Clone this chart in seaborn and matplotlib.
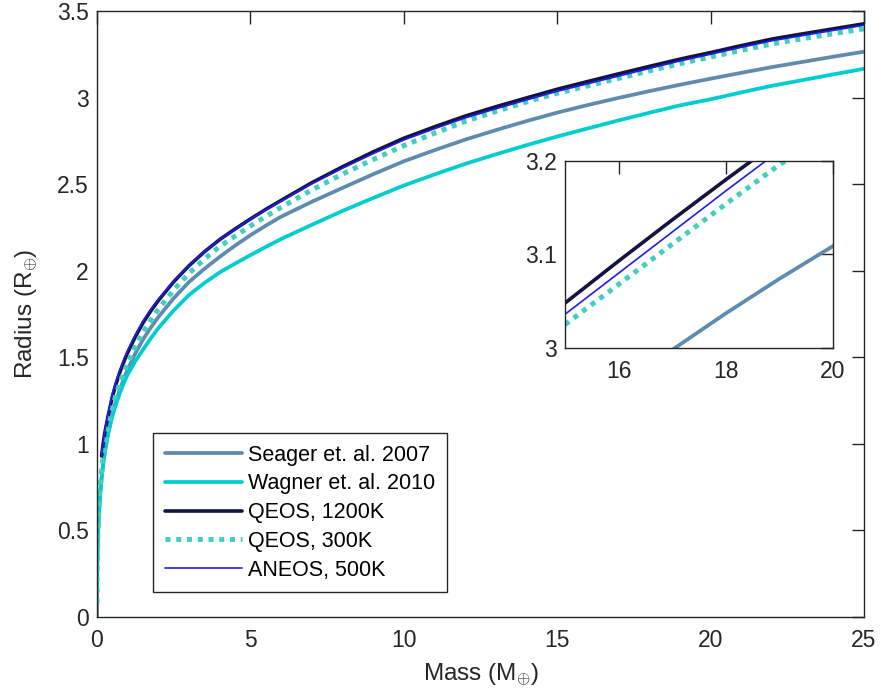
import numpy as np
import pandas as pd
import matplotlib
matplotlib.use("Agg")
import matplotlib.pyplot as plt
import seaborn as sns
from matplotlib.ticker import FuncFormatter

nan = np.nan
mass = [0, 0.0002, 0.001, 0.005, 0.02, 0.05, 0.1, 0.15, 0.2, 0.25, 0.35, 0.5, 0.6, 0.75, 0.9, 1,
        1.25, 1.5, 1.75, 2, 2.5, 3, 3.5, 4, 4.5, 5, 5.5, 6, 7, 8, 9, 10, 11, 12, 13, 14, 15, 16,
        17, 18, 19, 20, 21, 22, 23, 24, 25]
seager = [0, 0.088, 0.151, 0.259, 0.411, 0.558, 0.703, 0.804, 0.882, 0.947, 1.051, 1.170, 1.234,
          1.316, 1.387, 1.430, 1.523, 1.603, 1.671, 1.732, 1.841, 1.935, 2.011, 2.080, 2.145, 2.205,
          2.260, 2.312, 2.398, 2.478, 2.557, 2.632, 2.696, 2.757, 2.812, 2.864, 2.913, 2.957, 2.998,
          3.037, 3.074, 3.109, 3.143, 3.176, 3.206, 3.236, 3.265]
wagner = [nan, nan, 0.150, 0.260, 0.415, 0.564, 0.709, 0.807, 0.883, 0.946, 1.046, 1.160, 1.219,
          1.296, 1.362, 1.401, 1.478, 1.544, 1.609, 1.668, 1.771, 1.860, 1.929, 1.990, 2.041, 2.090,
          2.137, 2.183, 2.265, 2.345, 2.420, 2.492, 2.556, 2.617, 2.672, 2.725, 2.775, 2.822, 2.868,
          2.912, 2.955, 2.990, 3.030, 3.068, 3.101, 3.134, 3.166]
qeos1200 = [nan, nan, nan, nan, nan, nan, nan, 0.930, 1.000, 1.060, 1.150, 1.271, 1.334,
            1.416, 1.485, 1.527, 1.619, 1.699, 1.767, 1.828, 1.936, 2.029, 2.109, 2.180, 2.241, 2.299,
            2.354, 2.406, 2.508, 2.600, 2.686, 2.765, 2.831, 2.893, 2.947, 2.998, 3.048, 3.093, 3.137,
            3.180, 3.222, 3.260, 3.300, 3.338, 3.368, 3.397, 3.426]
qeos300 = [nan, 0.080, 0.143, 0.245, 0.427, 0.588, 0.740, 0.843, 0.922, 0.988, 1.093, 1.212, 1.274,
           1.355, 1.423, 1.464, 1.561, 1.645, 1.715, 1.778, 1.889, 1.985, 2.067, 2.140, 2.200, 2.258,
           2.313, 2.366, 2.466, 2.558, 2.642, 2.722, 2.794, 2.862, 2.920, 2.975, 3.025, 3.068, 3.111,
           3.154, 3.196, 3.234, 3.273, 3.310, 3.340, 3.369, 3.397]
aneos500 = [nan, nan, nan, nan, nan, nan, nan, 0.930, 1.005, 1.070, 1.165, 1.290, 1.352,
            1.430, 1.498, 1.540, 1.629, 1.710, 1.776, 1.835, 1.940, 2.032, 2.109, 2.180, 2.240, 2.298,
            2.352, 2.402, 2.502, 2.592, 2.676, 2.755, 2.820, 2.882, 2.935, 2.986, 3.036, 3.080, 3.124,
            3.168, 3.211, 3.250, 3.290, 3.328, 3.358, 3.388, 3.418]
labels = ["Seager et. al. 2007", "Wagner et. al. 2010", "QEOS, 1200K", "QEOS, 300K", "ANEOS, 500K"]
x_ticks = [0, 5, 10, 15, 20, 25]
y_ticks = [0, 0.5, 1, 1.5, 2, 2.5, 3, 3.5]
inset_x_ticks = [16, 18, 20]
inset_y_ticks = [3, 3.1, 3.2]

series = [seager, wagner, qeos1200, qeos300, aneos500]
rows = []
for lab, vals in zip(labels, series):
    for m, r in zip(mass, vals):
        if not np.isnan(r):
            rows.append({"Mass": m, "Radius": r, "Model": lab})
df = pd.DataFrame(rows)

styles = {
    "Seager et. al. 2007": dict(color="#5E8CAE", lw=2.7, ls="-"),
    "Wagner et. al. 2010": dict(color="#00CDD0", lw=2.7, ls="-"),
    "QEOS, 1200K": dict(color="#141442", lw=2.6, ls="-"),
    "QEOS, 300K": dict(color="#40CFC0", lw=3.6, ls=(0, (1, 1.15))),
    "ANEOS, 500K": dict(color="#1E1EE8", lw=1.2, ls="-"),
}

sns.set_style("white")
plt.rcParams["font.family"] = ["Liberation Sans", "DejaVu Sans"]
plt.rcParams["mathtext.fontset"] = "custom"
plt.rcParams["mathtext.rm"] = "Liberation Sans"
plt.rcParams["mathtext.it"] = "Liberation Sans"

fig = plt.figure(figsize=(8.81, 7.00), dpi=100)
ax = fig.add_axes([0.1101, 0.1186, 0.8706, 0.8657])
ins = fig.add_axes([0.6413, 0.5029, 0.3042, 0.2671])

tc = "#262626"
for a in (ax, ins):
    for lab in labels:
        st = styles[lab]
        sns.lineplot(data=df[df["Model"] == lab], x="Mass", y="Radius", ax=a,
                     color=st["color"], linewidth=st["lw"], linestyle=st["ls"],
                     estimator=None, sort=False, label=lab if a is ax else None,
                     legend=(a is ax))
        a.lines[-1].set_dash_capstyle("butt")
        a.lines[-1].set_solid_joinstyle("round")
    for s in a.spines.values():
        s.set_visible(True)
        s.set_color(tc)
        s.set_linewidth(1.0)
    a.tick_params(direction="in", top=True, right=True, length=9, width=1,
                  colors=tc, labelsize=16.5, labelcolor=tc)
    a.tick_params(axis="x", pad=9)
    a.tick_params(axis="y", pad=6)
    a.yaxis.set_major_formatter(FuncFormatter(lambda v, p: "%g" % v))
    a.xaxis.set_major_formatter(FuncFormatter(lambda v, p: "%g" % v))
    a.set_facecolor("white")

ax.set_xlim(0, 25)
ax.set_ylim(0, 3.5)
ax.set_xticks(x_ticks)
ax.set_yticks(y_ticks)
ax.set_xlabel(r"Mass (M$_{\oplus}$)", fontsize=17.5, color=tc, labelpad=6)
ax.set_ylabel(r"Radius (R$_{\oplus}$)", fontsize=17.5, color=tc, labelpad=12)

ins.set_xlim(15, 20)
ins.set_ylim(3, 3.2)
ins.set_xticks(inset_x_ticks)
ins.set_yticks(inset_y_ticks)
ins.set_xlabel("")
ins.set_ylabel("")

leg = ax.legend(loc="upper left", bbox_to_anchor=(0.073, 0.304), fontsize=15.5,
                frameon=True, fancybox=False, framealpha=1, edgecolor=tc,
                handlelength=3.6, handletextpad=0.28, labelspacing=0.36,
                borderpad=0.55, borderaxespad=0)
leg.get_frame().set_linewidth(1.0)
for t in leg.get_texts():
    t.set_color("black")

fig.savefig("out.png", dpi=100)
